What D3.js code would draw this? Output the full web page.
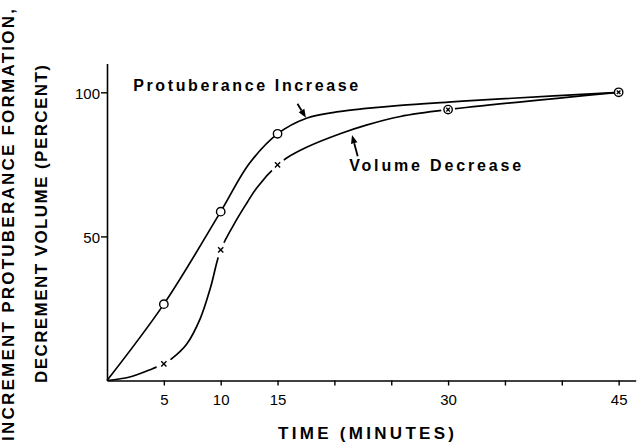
<!DOCTYPE html>
<html lang="en">
<head>
    <meta charset="UTF-8">
    <title>Protuberance Formation and Volume Decrease</title>
    <script src="https://d3js.org/d3.v7.min.js"></script>
</head>
<style>
    body{
        margin: 0;
        background-color: #fff;
    }
    svg{
        display: block;
        font-family: "Liberation Sans", Arial, sans-serif;
    }
</style>
<body>
    <script>
    // measured points (minutes, percent)
    const times = [5, 10, 15, 30, 45];
    const protuberance = [26.5, 58.6, 85.6, 94, 100];
    const volume = [5.8, 45.3, 74.8, 94, 100];

    // hand drawn curves as [minutes, percent]
    const protuberanceCurve = [[0, 0], [5, 26.5], [10, 58.6], [12.5, 75.2], [15, 85.6], [17.6, 91.1],
        [20.2, 93.2], [22.8, 94.4], [25.8, 95.5], [30, 96.6], [34.6, 97.7], [45, 100]];
    const volumeCurve = [[0, 0], [2, 1.2], [4, 4.1], [5, 5.8], [5.7, 7.6], [7, 12.6], [8.2, 21.5],
        [9.1, 32.2], [10, 45.3], [11.4, 55.8], [12.3, 61.6], [13.2, 67], [15, 74.8], [15.8, 77.2],
        [17.6, 81], [20.5, 85.6], [22.8, 88.6], [25.8, 91.6], [30, 94], [45, 100]];

    // axis ticks
    const xTicks = [5, 10, 15, 20, 25, 30, 35, 40, 45];
    const xTickLabels = [5, 10, 15, 30, 45];
    const yTicks = [50, 100];

    const width = 637;
    const height = 443;

    const svg = d3.select('body')
        .append('svg')
        .attr('width', width)
        .attr('height', height);

    const x = d3.scaleLinear()
        .domain([0, 46.5])
        .range([107, 635.7]);

    const y = d3.scaleLinear()
        .domain([0, 110])
        .range([380.5, 63.5]);

    // x axis
    const xAxis = svg.append('g')
        .attr('transform', `translate(0, ${y(0)})`)
        .call(d3.axisBottom(x)
            .tickValues(xTicks)
            .tickSize(5)
            .tickSizeOuter(0)
            .tickPadding(9)
            .tickFormat(d => xTickLabels.includes(d) ? d : ''));

    // y axis
    const yAxis = svg.append('g')
        .attr('transform', `translate(${x(0)}, 0)`)
        .call(d3.axisLeft(y)
            .tickValues(yTicks)
            .tickSize(6)
            .tickSizeOuter(0)
            .tickPadding(1));

    [xAxis, yAxis].forEach(g => {
        g.select('.domain').attr('stroke-width', 1.6);
        g.selectAll('.tick line').attr('stroke-width', 1.4);
        g.selectAll('.tick text')
            .attr('font-size', 15)
            .attr('font-family', '"Liberation Sans", Arial, sans-serif');
    });
    yAxis.selectAll('.tick text').attr('dy', '0.42em');

    const line = d3.line()
        .x(d => x(d[0]))
        .y(d => y(d[1]))
        .curve(d3.curveCatmullRom.alpha(0.5));

    // volume curve, broken around its marks
    svg.append('path')
        .datum(volumeCurve)
        .attr('d', line)
        .attr('fill', 'none')
        .attr('stroke', '#000')
        .attr('stroke-width', 1.7);

    svg.selectAll('.halo')
        .data(times.slice(0, 4))
        .enter()
        .append('circle')
        .attr('class', 'halo')
        .attr('cx', d => x(d))
        .attr('cy', (d, i) => y(volume[i]))
        .attr('r', (d, i) => i < 3 ? 8 : 7)
        .attr('fill', '#fff');

    svg.append('path')
        .datum(protuberanceCurve)
        .attr('d', line)
        .attr('fill', 'none')
        .attr('stroke', '#000')
        .attr('stroke-width', 1.7);

    // open circles: protuberance
    svg.selectAll('.pt')
        .data(times)
        .enter()
        .append('circle')
        .attr('class', 'pt')
        .attr('cx', d => x(d))
        .attr('cy', (d, i) => y(protuberance[i]))
        .attr('r', 4.2)
        .attr('fill', '#fff')
        .attr('stroke', '#000')
        .attr('stroke-width', 1.4);

    // crosses: volume
    svg.selectAll('.vx')
        .data(times)
        .enter()
        .append('path')
        .attr('class', 'vx')
        .attr('transform', (d, i) => `translate(${x(d)}, ${y(volume[i])})`)
        .attr('d', (d, i) => i < 3 ? 'M-2.6,-2.6L2.6,2.6M-2.6,2.6L2.6,-2.6' : 'M-1.8,-1.8L1.8,1.8M-1.8,1.8L1.8,-1.8')
        .attr('stroke', '#000')
        .attr('stroke-width', 1.4);

    // annotations
    const arrows = [
        [[16.75, 96.0], [17.5, 91.2]],
        [[22.05, 77.8], [21.55, 85.2]]
    ];
    arrows.forEach(a => {
        const x1 = x(a[0][0]), y1 = y(a[0][1]);
        const x2 = x(a[1][0]), y2 = y(a[1][1]);
        const ang = Math.atan2(y2 - y1, x2 - x1);
        const hl = 8.5, hw = 3.3;
        const bx = x2 - hl * Math.cos(ang), by = y2 - hl * Math.sin(ang);
        svg.append('line')
            .attr('x1', x1).attr('y1', y1)
            .attr('x2', bx).attr('y2', by)
            .attr('stroke', '#000')
            .attr('stroke-width', 1.8);
        svg.append('path')
            .attr('d', `M${x2},${y2}L${bx - hw * Math.sin(ang)},${by + hw * Math.cos(ang)}L${bx + hw * Math.sin(ang)},${by - hw * Math.cos(ang)}Z`)
            .attr('fill', '#000');
    });

    svg.append('text')
        .attr('x', x(2.3))
        .attr('y', y(100.5))
        .attr('font-size', 16)
        .attr('font-weight', 'bold')
        .attr('textLength', 225)
        .attr('lengthAdjust', 'spacing')
        .text('Protuberance Increase');

    svg.append('text')
        .attr('x', x(21.3))
        .attr('y', y(72.6))
        .attr('font-size', 16)
        .attr('font-weight', 'bold')
        .attr('textLength', 172)
        .attr('lengthAdjust', 'spacing')
        .text('Volume Decrease');

    // axis titles
    svg.append('text')
        .attr('x', 366)
        .attr('y', 438.5)
        .attr('text-anchor', 'middle')
        .attr('font-size', 17)
        .attr('font-weight', 'bold')
        .attr('textLength', 176)
        .attr('lengthAdjust', 'spacing')
        .text('TIME (MINUTES)');

    svg.append('text')
        .attr('transform', 'translate(14, 225) rotate(-90)')
        .attr('text-anchor', 'middle')
        .attr('font-size', 17)
        .attr('font-weight', 'bold')
        .attr('textLength', 432)
        .attr('lengthAdjust', 'spacing')
        .text('INCREMENT PROTUBERANCE FORMATION,');

    svg.append('text')
        .attr('transform', 'translate(46.5, 224) rotate(-90)')
        .attr('text-anchor', 'middle')
        .attr('font-size', 17)
        .attr('font-weight', 'bold')
        .attr('textLength', 318)
        .attr('lengthAdjust', 'spacing')
        .text('DECREMENT VOLUME (PERCENT)');
    </script>
</body>
</html>
